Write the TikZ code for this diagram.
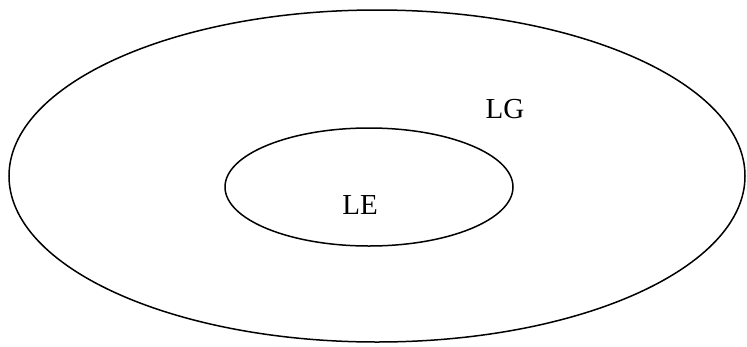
\documentclass[tikz,border=0pt]{standalone}
\usepackage{fontspec}
\setmainfont{Liberation Serif}
\begin{document}
\begin{tikzpicture}[x=1pt,y=-1pt,
  ring/.style={draw=black,line width=1.5pt},
  lbl/.style={font=\fontsize{29}{31}\selectfont,inner sep=0pt}]
\useasboundingbox (0,0) rectangle (747,346);
\draw[ring] (377,176) ellipse [x radius=368, y radius=166];
\draw[ring] (369,187) ellipse [x radius=144, y radius=59];
\node[lbl] (lg) at (505,109) {LG};
\node[lbl] (le) at (360,205) {LE};
\end{tikzpicture}
\end{document}
